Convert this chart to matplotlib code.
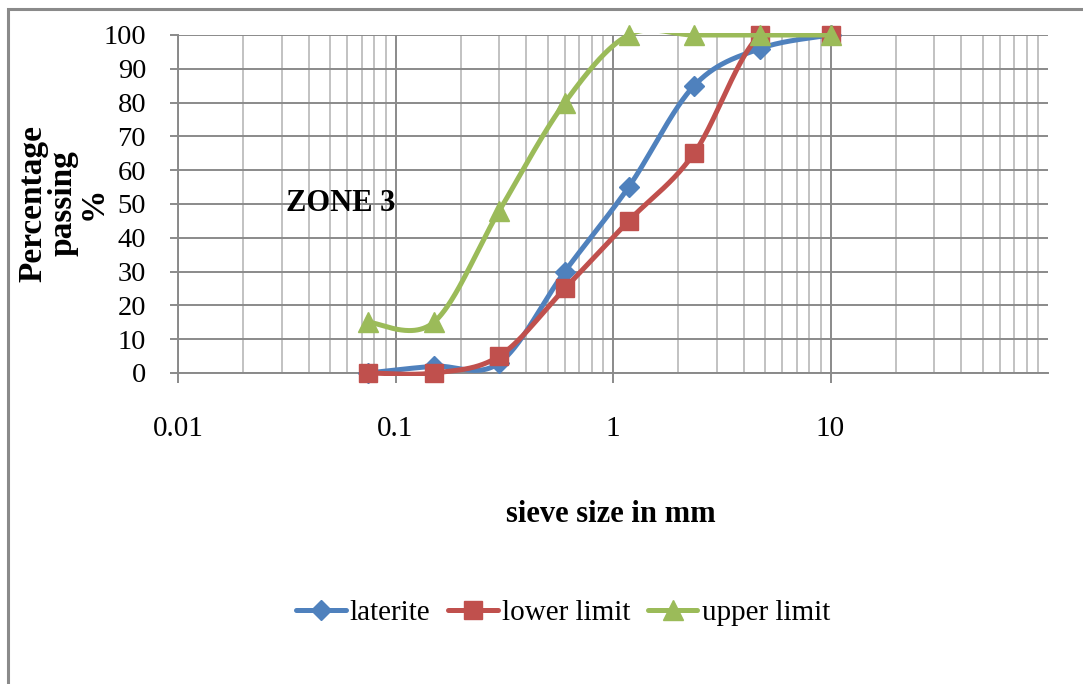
import numpy as np
import matplotlib
matplotlib.use("Agg")
import matplotlib.pyplot as plt
from matplotlib.lines import Line2D
from matplotlib.patches import Rectangle
from matplotlib.ticker import FixedLocator, NullFormatter

plt.rcParams['font.family'] = ['Liberation Serif', 'DejaVu Serif']

# ---- data ----
sieve_mm = [0.075, 0.15, 0.3, 0.6, 1.18, 2.36, 4.75, 10]
laterite = [0, 2, 3, 30, 55, 85, 96, 100]
lower_limit = [0, 0, 5, 25, 45, 65, 100, 100]
upper_limit = [15, 15, 48, 80, 100, 100, 100, 100]
series_names = ["laterite", "lower limit", "upper limit"]
x_tick_values = [0.01, 0.1, 1, 10]
x_tick_labels = ["0.01", "0.1", "1", "10"]
y_tick_values = list(range(0, 101, 10))

colors = ["#4F81BD", "#C0504D", "#9BBB59"]
markers = ["D", "s", "^"]
msizes = [10, 13.5, 14.5]


def smooth(xs, ys, n=80):
    """Excel-like smoothed line: cubic Bezier (Catmull-Rom) in log-x space."""
    P = np.column_stack([np.log10(xs), np.asarray(ys, float)])
    out = []
    t = np.linspace(0, 1, n)[:, None]
    for i in range(len(P) - 1):
        p0 = P[i - 1] if i > 0 else P[i]
        p1, p2 = P[i], P[i + 1]
        p3 = P[i + 2] if i + 2 < len(P) else P[i + 1]
        c1 = p1 + (p2 - p0) / 6.0
        c2 = p2 - (p3 - p1) / 6.0
        b = ((1 - t) ** 3) * p1 + 3 * ((1 - t) ** 2) * t * c1 + 3 * (1 - t) * t ** 2 * c2 + t ** 3 * p2
        out.append(b if i == 0 else b[1:])
    B = np.vstack(out)
    return 10 ** B[:, 0], B[:, 1]


W, H = 1083, 684
fig = plt.figure(figsize=(W / 100, H / 100), dpi=100)
ax = fig.add_axes([178 / W, 1 - 373 / H, (1048 - 178) / W, (373 - 35) / H])
ax.set_xscale("log")
ax.set_xlim(0.01, 100)
ax.set_ylim(0, 100)

# grid
ax.xaxis.set_major_locator(FixedLocator(x_tick_values))
ax.set_xticklabels(x_tick_labels)
minor = [m * d for d in [0.01, 0.1, 1, 10] for m in range(2, 10)]
ax.xaxis.set_minor_locator(FixedLocator(minor))
ax.xaxis.set_minor_formatter(NullFormatter())
ax.set_yticks(y_tick_values)
ax.grid(True, which="major", axis="both", color="#8A8A8A", lw=1.4)
ax.grid(True, which="minor", axis="x", color="#C2C2C2", lw=1.4)
ax.set_axisbelow(True)

for s in ["top", "right"]:
    ax.spines[s].set_visible(False)
for s in ["left", "bottom"]:
    ax.spines[s].set_color("#8A8A8A")
    ax.spines[s].set_linewidth(1.4)

ax.tick_params(axis="x", which="major", length=7, width=1.4, color="#8A8A8A",
               pad=24, labelsize=21)
ax.tick_params(axis="x", which="minor", length=0)
ax.tick_params(axis="y", which="major", length=6, width=1.4, color="#8A8A8A",
               pad=17, labelsize=20.5)

clip_rect = Rectangle((0, -0.01), 1, 1.017, transform=ax.transAxes)

handles = []
for k, ys in enumerate([laterite, lower_limit, upper_limit]):
    sx, sy = smooth(sieve_mm, ys)
    ln, = ax.plot(sx, sy, color=colors[k], lw=3.6, zorder=3 + 2 * k,
                  solid_capstyle="round")
    ln.set_clip_path(clip_rect)
    ax.plot(sieve_mm, ys, linestyle="none", marker=markers[k], ms=msizes[k],
            color=colors[k], mec=colors[k], zorder=4 + 2 * k, clip_on=False)
    handles.append(Line2D([], [], color=colors[k], lw=3.6, marker=markers[k],
                          ms=msizes[k], mec=colors[k], solid_capstyle="round"))

ax.text(0.0558, 50, "ZONE 3", fontsize=22, fontweight="bold", ha="center", va="center")

fig.text(611 / W, 1 - 514 / H, "sieve size in mm", fontsize=22, fontweight="bold",
         ha="center", va="center")
fig.text(63 / W, 1 - 203 / H, "Percentage\npassing\n%", fontsize=24, fontweight="bold",
         rotation=90, ha="center", va="center", multialignment="center", linespacing=0.95)

fig.legend(handles, series_names, loc="center", bbox_to_anchor=(563 / W, 1 - 613 / H),
           ncol=3, frameon=False, fontsize=21, handlelength=1.7, handletextpad=0.15,
           columnspacing=0.6)

# outer chart border (top & left visible)
fig.patches.append(Rectangle((8 / W, -0.1), 1.2, 1.1 - 9 / H, transform=fig.transFigure,
                             fill=False, edgecolor="#8A8A8A", lw=2.2))

fig.savefig("out.png", dpi=100)
